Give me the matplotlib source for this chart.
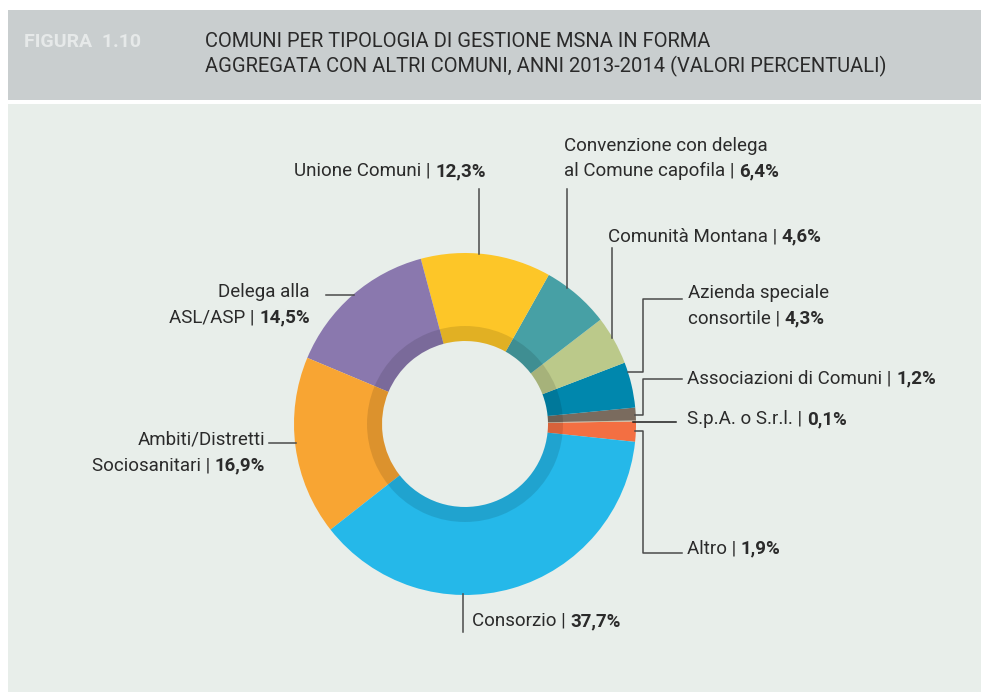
import matplotlib.pyplot as plt
from matplotlib.patches import Rectangle, Wedge

plt.rcParams['font.family'] = ['Roboto', 'DejaVu Sans']

# data (counterclockwise from the right side of the ring)
labels = ['Altro', 'S.p.A. o S.r.l.', 'Associazioni di Comuni', 'Azienda speciale consortile',
          'Comunità Montana', 'Convenzione con delega al Comune capofila', 'Unione Comuni',
          'Delega alla ASL/ASP', 'Ambiti/Distretti Sociosanitari', 'Consorzio']
values = [1.9, 0.1, 1.2, 4.3, 4.6, 6.4, 12.3, 14.5, 16.9, 37.7]
colors = ['#f36f42', '#c9b99c', '#7a6b5e', '#0087ad', '#bbc98a', '#47a0a5',
          '#fdc628', '#8a78ae', '#f8a533', '#25b8e9']
pct_text = [('%.1f%%' % v).replace('.', ',') for v in values]

# label text (regular part, then the bold value goes at the end of the last line)
label_lines = {
    'Altro': ['Altro | '],
    'S.p.A. o S.r.l.': ['S.p.A. o S.r.l. | '],
    'Associazioni di Comuni': ['Associazioni di Comuni | '],
    'Azienda speciale consortile': ['Azienda speciale', 'consortile | '],
    'Comunità Montana': ['Comunità Montana | '],
    'Convenzione con delega al Comune capofila': ['Convenzione con delega', 'al Comune capofila | '],
    'Unione Comuni': ['Unione Comuni | '],
    'Delega alla ASL/ASP': ['Delega alla', 'ASL/ASP | '],
    'Ambiti/Distretti Sociosanitari': ['Ambiti/Distretti', 'Sociosanitari | '],
    'Consorzio': ['Consorzio | '],
}

fig = plt.figure(figsize=(9.81, 6.92), dpi=100)
fig.patch.set_facecolor('white')
ax = fig.add_axes([0, 0, 1, 1])

cx, cy = 465, 424
R, r_in = 171, 83

ax.pie(values, colors=colors, startangle=6, counterclock=False, radius=R,
       center=(cx, cy), wedgeprops=dict(width=R - r_in, edgecolor='none', linewidth=0))

ax.set_xlim(0, 981)
ax.set_ylim(692, 0)
ax.set_aspect('auto')
ax.axis('off')

# backgrounds
ax.add_patch(Rectangle((8, 10), 981 - 8, 90, fc='#c9cecf', ec='none', zorder=-5))
ax.add_patch(Rectangle((8, 104), 981 - 8, 692 - 104, fc='#e8eeea', ec='none', zorder=-5))
# inner shadow ring
ax.add_patch(Wedge((cx, cy), r_in + 15, 0, 360, width=15, fc='black', alpha=0.11, ec='none', zorder=3))

# header
ax.text(24, 47, 'FIGURA  1.10', fontsize=14, fontweight='bold', color='#e6e9e9', va='baseline')
ax.text(205, 47, 'COMUNI PER TIPOLOGIA DI GESTIONE MSNA IN FORMA', fontsize=14.5,
        color='#2a2a2a', va='baseline')
ax.text(205, 72, 'AGGREGATA CON ALTRI COMUNI, ANNI 2013-2014 (VALORI PERCENTUALI)', fontsize=14.5,
        color='#2a2a2a', va='baseline')

renderer = fig.canvas.get_renderer()
txt_col = '#2b2b2b'
fs = 13.5
line_h = 25.5


def put_label(name, x, y, ha):
    lines = label_lines[name]
    val = pct_text[labels.index(name)]
    for i, ln in enumerate(lines):
        yy = y + i * line_h
        last = i == len(lines) - 1
        if ha == 'left':
            t = ax.text(x, yy, ln, fontsize=fs, color=txt_col, va='baseline', ha='left')
            if last:
                bb = t.get_window_extent(renderer)
                ax.text(bb.x1, yy, val, fontsize=fs, fontweight='bold', color=txt_col,
                        va='baseline', ha='left')
        else:
            if last:
                tb = ax.text(x, yy, val, fontsize=fs, fontweight='bold', color=txt_col,
                             va='baseline', ha='right')
                bb = tb.get_window_extent(renderer)
                ax.text(bb.x0, yy, ln, fontsize=fs, color=txt_col, va='baseline', ha='right')
            else:
                ax.text(x, yy, ln, fontsize=fs, color=txt_col, va='baseline', ha='right')


put_label('Unione Comuni', 486, 176, 'right')
put_label('Convenzione con delega al Comune capofila', 564, 151, 'left')
put_label('Comunità Montana', 608, 241, 'left')
put_label('Azienda speciale consortile', 688, 298, 'left')
put_label('Associazioni di Comuni', 687, 383, 'left')
put_label('S.p.A. o S.r.l.', 687, 424, 'left')
put_label('Altro', 687, 553, 'left')
put_label('Consorzio', 472, 626, 'left')
put_label('Delega alla ASL/ASP', 310, 297, 'right')
put_label('Ambiti/Distretti Sociosanitari', 265, 445, 'right')

# leader lines
lc = '#4a4a4a'
lw = 1.1
ax.plot([479, 479], [189, 254], color=lc, lw=lw)
ax.plot([567, 567], [189, 288], color=lc, lw=lw)
ax.plot([612, 612], [248, 338], color=lc, lw=lw)
ax.plot([628, 643, 643, 682], [372, 372, 299, 299], color=lc, lw=lw)
ax.plot([635, 643, 643, 682], [415, 415, 379, 379], color=lc, lw=lw)
ax.plot([633, 676], [422, 422], color='#1e1e1e', lw=lw)
ax.plot([635, 643, 643, 682], [431, 431, 553, 553], color=lc, lw=lw)
ax.plot([463, 463], [594, 632], color=lc, lw=lw)
ax.plot([326, 354], [295, 295], color=lc, lw=lw)
ax.plot([269, 296], [443, 443], color=lc, lw=lw)

fig.savefig('out.png', dpi=100)
